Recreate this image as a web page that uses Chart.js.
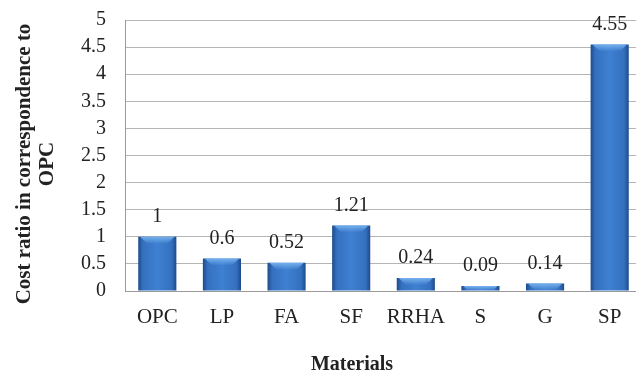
<!DOCTYPE html>
<html>
<head>
<meta charset="utf-8">
<script src="https://cdn.jsdelivr.net/npm/chart.js@4/dist/chart.umd.min.js"></script>
<style>
html,body{margin:0;padding:0;background:#fff;overflow:hidden;}
#wrap{width:646px;height:375px;position:relative;}
</style>
</head>
<body>
<div id="wrap"><canvas id="c"></canvas></div>
<script>
const categories = ["OPC","LP","FA","SF","RRHA","S","G","SP"];
const costRatio = [1, 0.6, 0.52, 1.21, 0.24, 0.09, 0.14, 4.55];
const valueLabels = ["1","0.6","0.52","1.21","0.24","0.09","0.14","4.55"];
const yTicks = [0,0.5,1,1.5,2,2.5,3,3.5,4,4.5,5];
const yTitleLines = ["Cost ratio in correspondence to","OPC"];
const xTitle = "Materials";

const serif = "'Liberation Serif','Times New Roman',serif";

function barGradient(ctx){
  const chart = ctx.chart;
  const area = chart.chartArea;
  if(!area || ctx.type !== 'data') return '#3a74c4';
  const el = chart.getDatasetMeta(0).data[ctx.dataIndex];
  const xs = chart.scales.x;
  const cx = xs.getPixelForValue(ctx.dataIndex);
  const w = el && el.width ? el.width : 38;
  const g = chart.ctx.createLinearGradient(cx - w/2, 0, cx + w/2, 0);
  g.addColorStop(0, '#1d4b8a');
  g.addColorStop(0.12, '#3470bf');
  g.addColorStop(0.5, '#3f80d2');
  g.addColorStop(0.88, '#3470bf');
  g.addColorStop(1, '#1d4b8a');
  return g;
}

const labelPlugin = {
  id:'valueLabels',
  afterDatasetsDraw(chart){
    const ctx = chart.ctx;
    const meta = chart.getDatasetMeta(0);
    ctx.save();
    meta.data.forEach((bar)=>{
      const w = bar.width;
      const h = Math.min(7, bar.base - bar.y);
      const g = ctx.createLinearGradient(0, bar.y, 0, bar.y + h);
      g.addColorStop(0,'rgba(120,180,240,0.95)');
      g.addColorStop(1,'rgba(120,180,240,0)');
      ctx.fillStyle = g;
      ctx.beginPath();
      ctx.moveTo(bar.x - w/2 + 2, bar.y);
      ctx.lineTo(bar.x + w/2 - 2, bar.y);
      ctx.lineTo(bar.x + w/2 - 2 - h, bar.y + h);
      ctx.lineTo(bar.x - w/2 + 2 + h, bar.y + h);
      ctx.closePath();
      ctx.fill();
    });
    ctx.font = "20px " + serif;
    ctx.fillStyle = '#222';
    ctx.textAlign = 'center';
    ctx.textBaseline = 'middle';
    meta.data.forEach((bar,i)=>{
      ctx.fillText(valueLabels[i], bar.x, bar.y - 20);
    });
    ctx.restore();
  },
  afterDraw(chart){
    const ctx = chart.ctx;
    ctx.save();
    ctx.font = "bold 20px " + serif;
    ctx.fillStyle = '#222';
    ctx.textAlign = 'center';
    ctx.textBaseline = 'middle';
    ctx.fillText(xTitle, 352, 365);
    ctx.font = "bold 21px " + serif;
    ctx.translate(0, 164);
    ctx.rotate(-Math.PI/2);
    ctx.fillText(yTitleLines[0], 0, 25);
    ctx.fillText(yTitleLines[1], 0, 48);
    ctx.restore();
  }
};

new Chart(document.getElementById('c'), {
  type:'bar',
  data:{
    labels: categories,
    datasets:[{
      data: costRatio,
      backgroundColor: barGradient,
      borderWidth: 0,
      barPercentage: 0.59,
      categoryPercentage: 1.0
    }]
  },
  options:{
    responsive:true,
    maintainAspectRatio:false,
    animation:false,
    layout:{padding:{top:20,right:4,left:0,bottom:0}},
    plugins:{legend:{display:false},tooltip:{enabled:false}},
    scales:{
      x:{
        grid:{display:false, drawTicks:false},
        border:{color:'#9a9a9a'},
        ticks:{font:{family:serif,size:21},color:'#222',padding:14,autoSkip:false,maxRotation:0},
        afterFit(s){ s.height = 84; s.paddingLeft = 0; s.paddingRight = 0; }
      },
      y:{
        min:0,max:5,
        afterBuildTicks(s){ s.ticks = yTicks.map(v=>({value:v})); },
        grid:{color:'#b5b5b5', drawTicks:false},
        border:{color:'#9a9a9a'},
        ticks:{font:{family:serif,size:20},color:'#222',padding:19,autoSkip:false,
          callback:(v)=>String(v)},
        afterFit(s){ s.width = 125; s.paddingTop = 0; s.paddingBottom = 0; }
      }
    }
  },
  plugins:[labelPlugin]
});
</script>
</body>
</html>
